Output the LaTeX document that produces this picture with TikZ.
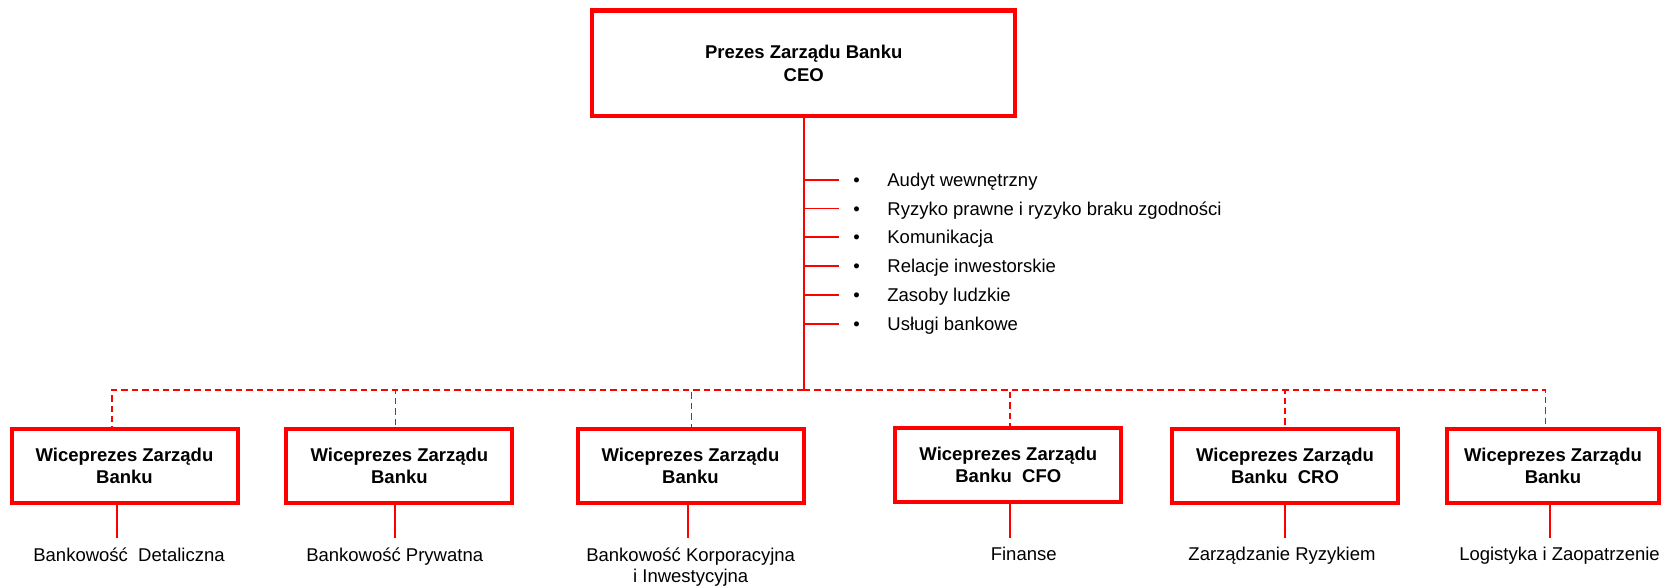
\documentclass[tikz,border=0pt]{standalone}
\usepackage{fontspec}
\setmainfont{Liberation Sans}
\definecolor{bankred}{rgb}{1,0,0}

\begin{document}
\begin{tikzpicture}[x=0.5pt, y=-0.5pt,
    every node/.style={font=\fontsize{9.25pt}{10.85pt}\selectfont},
    boss/.style={draw=bankred, line width=2.2pt, minimum width=211.5pt, minimum height=52.8pt, align=center, font=\bfseries\fontsize{9.25pt}{11.65pt}\selectfont},
    vice/.style={draw=bankred, line width=2pt, minimum width=113pt, minimum height=37pt, align=center, font=\bfseries\fontsize{9.25pt}{10.85pt}\selectfont},
    dept/.style={anchor=north, inner sep=0pt, align=center},
    item/.style={anchor=west, inner sep=0pt, text height=6.6pt, text depth=0pt},
    redline/.style={draw=bankred, line width=0.8pt},
    dashline/.style={draw=bankred, line width=0.75pt, dash pattern=on 3.2pt off 2pt}]
    \useasboundingbox (0,0) rectangle (1663,586);
    %top of the bank
    \node[boss] (ceo) at (803.7,63.3) {Prezes Zarządu Banku\\CEO};
    \coordinate (bus) at (803.7,390);
    %units reporting to the CEO
    \node[item] (i1) at (853,180) {\makebox[17pt][l]{\textbullet}Audyt wewnętrzny};
    \node[item] (i2) at (853,208.5) {\makebox[17pt][l]{\textbullet}Ryzyko prawne i ryzyko braku zgodności};
    \node[item] (i3) at (853,237) {\makebox[17pt][l]{\textbullet}Komunikacja};
    \node[item] (i4) at (853,266) {\makebox[17pt][l]{\textbullet}Relacje inwestorskie};
    \node[item] (i5) at (853,295) {\makebox[17pt][l]{\textbullet}Zasoby ludzkie};
    \node[item] (i6) at (853,324) {\makebox[17pt][l]{\textbullet}Usługi bankowe};
    %vice presidents
    \node[vice] (wp1) at (124.5,466) {Wiceprezes Zarządu\\Banku};
    \node[vice] (wp2) at (399.4,466) {Wiceprezes Zarządu\\Banku};
    \node[vice] (wp3) at (690.5,466) {Wiceprezes Zarządu\\Banku};
    \node[vice] (wp4) at (1008.3,465) {Wiceprezes Zarządu\\Banku~~CFO};
    \node[vice] (wp5) at (1285,466) {Wiceprezes Zarządu\\Banku~~CRO};
    \node[vice, minimum width=106pt] (wp6) at (1553,466) {Wiceprezes Zarządu\\Banku};
    %their divisions
    \node[dept] (d1) at (129,547) {Bankowość~~Detaliczna};
    \node[dept] (d2) at (394.7,547) {Bankowość Prywatna};
    \node[dept] (d3) at (690.7,547) {Bankowość Korporacyjna\\i Inwestycyjna};
    \node[dept] (d4) at (1023.7,547) {Finanse};
    \node[dept] (d5) at (1282,547) {Zarządzanie Ryzykiem};
    \node[dept] (d6) at (1559.5,547) {Logistyka i Zaopatrzenie};

    \draw[redline] (ceo.south) -- (bus);
    \foreach \i in {1,...,6}
        \draw[redline] (i\i.west -| ceo.south) -- ([xshift=-7pt]i\i.west);
    \foreach \n/\dx in {1/-6.25,2/-1.85,3/0.6,4/0.85,5/0,6/-3.65}
        \draw[dashline] (bus) -| ([xshift=\dx pt]wp\n.north);
    \foreach \n/\dx in {1/-3.75,2/-2.35,3/-1.25,4/0.85,5/0,6/-1.5}
        \draw[redline, shorten >=4.5pt] ([xshift=\dx pt]wp\n.south) -- ([xshift=\dx pt]wp\n.south |- d\n.north);
\end{tikzpicture}
\end{document}
